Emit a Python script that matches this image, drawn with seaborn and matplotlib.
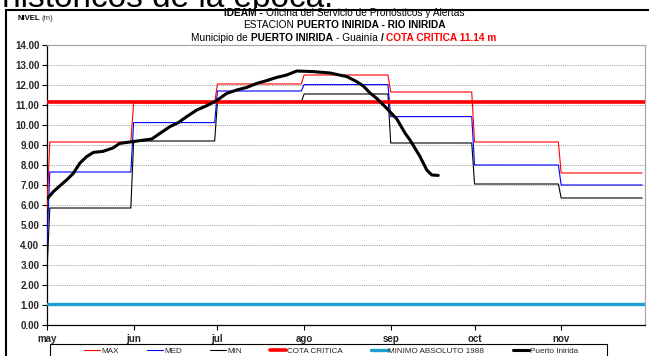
import matplotlib
matplotlib.use("Agg")
import matplotlib.pyplot as plt
import numpy as np
import pandas as pd
import seaborn as sns
from matplotlib.patches import Rectangle

# ---- data -------------------------------------------------------------
months = ["may", "jun", "jul", "ago", "sep", "oct", "nov"]
month_start_day = [0, 31, 61, 92, 123, 153, 184]
season_end_day = 214

# first day of the record, then one historical level per month
max_first_day = 5.8
med_first_day = 4.1
min_first_day = 2.7
max_level = [9.15, 11.10, 12.05, 12.50, 11.65, 9.15, 7.60]
med_level = [7.65, 10.12, 11.70, 12.02, 10.42, 8.00, 7.00]
min_level = [5.85, 9.20, 11.15, 11.55, 9.10, 7.05, 6.35]

cota_critica = 11.14
minimo_absoluto_1988 = 1.07

# Puerto Inirida observed levels (day counted from 1 May)
obs_day = [0, 2.3, 4.7, 7, 9.4, 11.8, 14.2, 16.6, 20, 23.6, 26, 29.7, 33.3,
           37.5, 40.4, 44, 47, 50, 53.6, 57.2, 60.7, 64.3, 67.9, 71.5, 75.1,
           78.6, 82.2, 85.8, 89.4, 95.2, 101.3, 107.3, 110.8, 113.2, 115.6,
           118, 121.6, 125.2, 128.1, 129.9, 133.5, 135.9, 137.7, 140]
obs_level = [6.30, 6.67, 6.97, 7.25, 7.58, 8.10, 8.42, 8.63, 8.68, 8.85,
             9.08, 9.15, 9.22, 9.30, 9.58, 9.92, 10.12, 10.42, 10.75, 10.97,
             11.22, 11.58, 11.75, 11.88, 12.08, 12.22, 12.38, 12.50, 12.70,
             12.67, 12.60, 12.42, 12.17, 11.95, 11.60, 11.33, 10.83, 10.30,
             9.60, 9.25, 8.42, 7.75, 7.50, 7.48]

y_ticks = np.arange(0, 15, 1)


def monthly_steps(first_value, levels):
    """Step series: value of day 0, then each month held from first to last day."""
    days, values = [0], [first_value]
    ends = month_start_day[1:] + [season_end_day]
    for i, (start, end) in enumerate(zip(month_start_day, ends)):
        days += [max(start, 1), end - 1]
        values += [levels[i], levels[i]]
    return pd.DataFrame({"dia": days, "nivel": values})


# ---- figure -----------------------------------------------------------
sns.set_theme(style="white")
plt.rcParams["font.family"] = ["Liberation Sans", "DejaVu Sans"]

W, H = 649, 356
fig = plt.figure(figsize=(W / 100, H / 100), dpi=100)
fig.patch.set_facecolor("white")
ax = fig.add_axes([47 / W, 1 - 325 / H, (645 - 47) / W, (325 - 45) / H])

ax.set_xlim(0, season_end_day)
ax.set_ylim(0, 14)

full_span = pd.DataFrame({"dia": [0, season_end_day]})

sns.lineplot(data=monthly_steps(min_first_day, min_level), x="dia", y="nivel",
             sort=False, color="black", lw=0.8, ax=ax, label="MIN", zorder=3)
sns.lineplot(data=monthly_steps(med_first_day, med_level), x="dia", y="nivel",
             sort=False, color="#0000ff", lw=0.8, ax=ax, label="MED", zorder=3)
sns.lineplot(data=monthly_steps(max_first_day, max_level), x="dia", y="nivel",
             sort=False, color="#ff0000", lw=0.8, ax=ax, label="MAX", zorder=3)
sns.lineplot(x=full_span["dia"], y=[cota_critica] * 2, color="#ff0000",
             lw=2.6, ax=ax, label="COTA CRITICA", zorder=4)
sns.lineplot(x=full_span["dia"], y=[minimo_absoluto_1988] * 2, color="#1b9fd3",
             lw=2.4, ax=ax, label="MINIMO ABSOLUTO 1988", zorder=4)
sns.lineplot(x=obs_day, y=obs_level, color="black", lw=2.2, ax=ax,
             label="Puerto Inirida", zorder=5, sort=False)
ax.get_legend().remove()

# axes styling
ax.set_xticks(month_start_day)
ax.set_xticklabels(months, fontsize=7, fontweight="bold")
ax.set_yticks(y_ticks)
ax.set_yticklabels([f"{v:.2f}" for v in y_ticks], fontsize=7, fontweight="bold")
ax.tick_params(axis="both", direction="out", length=3.5, width=0.8,
               color="black", pad=2, left=True, bottom=True)
ax.tick_params(axis="x", pad=3)
ax.set_xlabel("")
ax.set_ylabel("")
ax.yaxis.grid(True, linestyle=(0, (1, 1.2)), color="#9a9a9a", lw=0.7)
ax.xaxis.grid(False)
ax.set_axisbelow(True)
for side in ("left", "bottom"):
    ax.spines[side].set_color("black")
    ax.spines[side].set_linewidth(0.9)
for side in ("top", "right"):
    ax.spines[side].set_color("#a8a8a8")
    ax.spines[side].set_linewidth(0.9)

# running text of the page, partly hidden behind the chart block
fig.text(333 / W, 1 - 7 / H, "históricos de la época.", fontsize=24,
         ha="right", va="baseline", color="black", zorder=-3)
fig.add_artist(Rectangle((0, -0.05), 1.05, 1 - 8 / H + 0.05,
                         transform=fig.transFigure, facecolor="white",
                         edgecolor="none", zorder=-2))

# chart frame
fig.add_artist(Rectangle((6 / W, -0.05), 1.05, 1 - 10 / H + 0.05,
                         transform=fig.transFigure, fill=False,
                         edgecolor="black", lw=1.5, zorder=-1))

# ---- title made of mixed-style pieces ---------------------------------
renderer = fig.canvas.get_renderer()


def rich_line(y_px, pieces, size, center_px=None, left_px=None):
    texts, widths = [], []
    for s, weight, color in pieces:
        t = fig.text(0, 1 - y_px / H, s, fontsize=size, fontweight=weight,
                     color=color, va="baseline", ha="left")
        texts.append(t)
        widths.append(t.get_window_extent(renderer).width)
    probe_a = fig.text(0, 0, "xx", fontsize=size)
    probe_b = fig.text(0, 0, "x x", fontsize=size)
    space = probe_b.get_window_extent(renderer).width - probe_a.get_window_extent(renderer).width
    probe_a.remove()
    probe_b.remove()
    total = sum(widths) + space * (len(pieces) - 1)
    x = left_px if left_px is not None else center_px - total / 2
    for t, w in zip(texts, widths):
        t.set_x(x / W)
        x += w + space


title_size = 7.3
rich_line(16, [("IDEAM -", "bold", "black"),
               ("Oficina del Servicio de Pronósticos y Alertas", "normal", "black")],
          title_size, center_px=344)
rich_line(28.5, [("ESTACION", "normal", "black"),
                 ("PUERTO INIRIDA - RIO INIRIDA", "bold", "black")],
          title_size, center_px=344)
rich_line(41, [("Municipio de", "normal", "black"),
               ("PUERTO INIRIDA", "bold", "black"),
               ("- Guainía", "normal", "black"),
               ("/", "bold", "black"),
               ("COTA CRITICA 11.14 m", "bold", "#ff0000")],
          title_size, center_px=344)
rich_line(20, [("NIVEL", "bold", "black"), ("(m)", "normal", "#333333")],
          5.6, left_px=17)

# ---- legend -----------------------------------------------------------
handles, labels = ax.get_legend_handles_labels()
order = ["MAX", "MED", "MIN", "COTA CRITICA", "MINIMO ABSOLUTO 1988", "Puerto Inirida"]
hmap = dict(zip(labels, handles))
fig.add_artist(Rectangle((50 / W, -0.05), (607 - 50) / W, 1 - 344 / H + 0.05,
                         transform=fig.transFigure, fill=False,
                         edgecolor="black", lw=0.8, zorder=2))
leg = fig.legend([hmap[k] for k in order], order, loc="lower left",
                 bbox_to_anchor=(84 / W, 1 - 355 / H, (578 - 84) / W, 10 / H),
                 mode="expand", ncol=6, fontsize=5.9, frameon=False,
                 handlelength=2.0, handletextpad=0.1, columnspacing=1.0,
                 borderpad=0.0, borderaxespad=0)

fig.savefig("out.png", dpi=100)
